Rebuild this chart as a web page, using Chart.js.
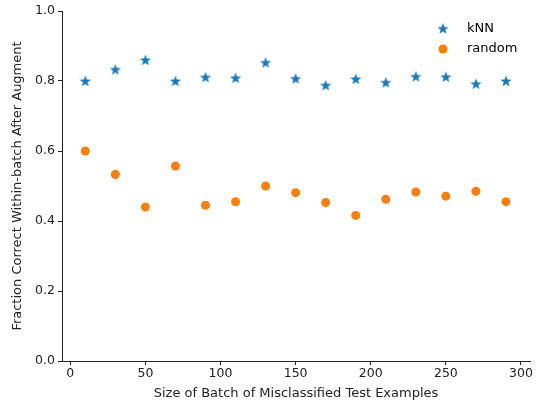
<!DOCTYPE html>
<html>
<head>
<meta charset="utf-8">
<script src="https://cdn.jsdelivr.net/npm/chart.js@4.4.0/dist/chart.umd.min.js"></script>
<style>
  html, body { margin: 0; padding: 0; background: #fff; }
  #wrap { width: 538px; height: 403px; position: relative; }
</style>
</head>
<body>
<div id="wrap"><canvas id="chart" width="538" height="403"></canvas></div>
<script>
// batch sizes
const batchSizes = [10, 30, 50, 70, 90, 110, 130, 150, 170, 190, 210, 230, 250, 270, 290];
const knnValues = [0.800, 0.833, 0.860, 0.800, 0.811, 0.809, 0.853, 0.807, 0.788, 0.806, 0.796, 0.813, 0.812, 0.792, 0.800];
const randomValues = [0.600, 0.533, 0.440, 0.557, 0.445, 0.455, 0.500, 0.481, 0.453, 0.416, 0.462, 0.483, 0.471, 0.485, 0.455];
const xTicks = [0, 50, 100, 150, 200, 250, 300];
const yTicks = [0.0, 0.2, 0.4, 0.6, 0.8, 1.0];
const seriesNames = ['kNN', 'random'];

const blue = '#1f77b4';
const orange = '#ff7f0e';
const font = 'DejaVu Sans';

// filled 5 point star, like matplotlib '*'
function makeStar(size, color) {
    const c = document.createElement('canvas');
    c.width = size; c.height = size;
    const g = c.getContext('2d');
    const cx = size / 2, cy = size / 2 + 0.5;
    const outer = size / 2, inner = outer * 0.4;
    g.beginPath();
    for (let i = 0; i < 10; i++) {
        const r = i % 2 === 0 ? outer : inner;
        const a = -Math.PI / 2 + i * Math.PI / 5;
        const px = cx + r * Math.cos(a), py = cy + r * Math.sin(a);
        if (i === 0) g.moveTo(px, py); else g.lineTo(px, py);
    }
    g.closePath();
    g.fillStyle = color;
    g.fill();
    return c;
}
const starImg = makeStar(12, blue);

function toPoints(ys) {
    return batchSizes.map((x, i) => ({ x: x, y: ys[i] }));
}

// legend drawn inside the plot, top right
const insideLegend = {
    id: 'insideLegend',
    afterDraw(chart) {
        const ctx = chart.ctx;
        const area = chart.chartArea;
        const mx = area.right - 87;
        const tx = area.right - 63;
        const rows = [area.top + 18, area.top + 38];
        ctx.save();
        ctx.font = '13px "' + font + '"';
        ctx.fillStyle = '#000';
        ctx.textBaseline = 'middle';
        ctx.drawImage(starImg, mx - 6, rows[0] - 6.5);
        ctx.beginPath();
        ctx.arc(mx, rows[1], 4.5, 0, Math.PI * 2);
        ctx.fillStyle = orange;
        ctx.fill();
        ctx.fillStyle = '#000';
        ctx.fillText(seriesNames[0], tx, rows[0]);
        ctx.fillText(seriesNames[1], tx, rows[1]);
        ctx.restore();
    }
};

new Chart(document.getElementById('chart'), {
    type: 'scatter',
    data: {
        datasets: [{
            label: seriesNames[0],
            data: toPoints(knnValues),
            pointStyle: starImg,
            backgroundColor: blue,
            borderColor: blue
        }, {
            label: seriesNames[1],
            data: toPoints(randomValues),
            pointStyle: 'circle',
            pointRadius: 4.5,
            backgroundColor: orange,
            borderColor: orange,
            borderWidth: 0
        }]
    },
    options: {
        responsive: false,
        animation: false,
        layout: { padding: { left: 0, right: 8, top: 11, bottom: 0 } },
        plugins: {
            legend: { display: false },
            tooltip: { enabled: false }
        },
        scales: {
            x: {
                type: 'linear',
                min: -5.5,
                max: 306,
                afterBuildTicks: s => { s.ticks = xTicks.map(v => ({ value: v })); },
                afterFit: s => { s.height = 42; },
                grid: { drawOnChartArea: false, tickLength: 4, tickColor: '#222', tickWidth: 1 },
                border: { display: true, color: '#222', width: 1 },
                ticks: { color: '#222', font: { family: font, size: 12.5 }, padding: 1 },
                title: {
                    display: true,
                    text: 'Size of Batch of Misclassified Test Examples',
                    color: '#222',
                    font: { family: font, size: 13 },
                    padding: { top: 0, bottom: 2 }
                }
            },
            y: {
                min: 0,
                max: 1,
                afterBuildTicks: s => { s.ticks = yTicks.map(v => ({ value: v })); },
                afterFit: s => { s.width = 62; },
                grid: { drawOnChartArea: false, tickLength: 4, tickColor: '#222', tickWidth: 1 },
                border: { display: true, color: '#222', width: 1 },
                ticks: {
                    color: '#222',
                    font: { family: font, size: 12.5 },
                    padding: 3,
                    callback: v => v.toFixed(1)
                },
                title: {
                    display: true,
                    text: 'Fraction Correct Within-batch After Augment',
                    color: '#222',
                    font: { family: font, size: 13 },
                    padding: { top: 10, bottom: 4 }
                }
            }
        }
    },
    plugins: [insideLegend]
});
</script>
</body>
</html>
